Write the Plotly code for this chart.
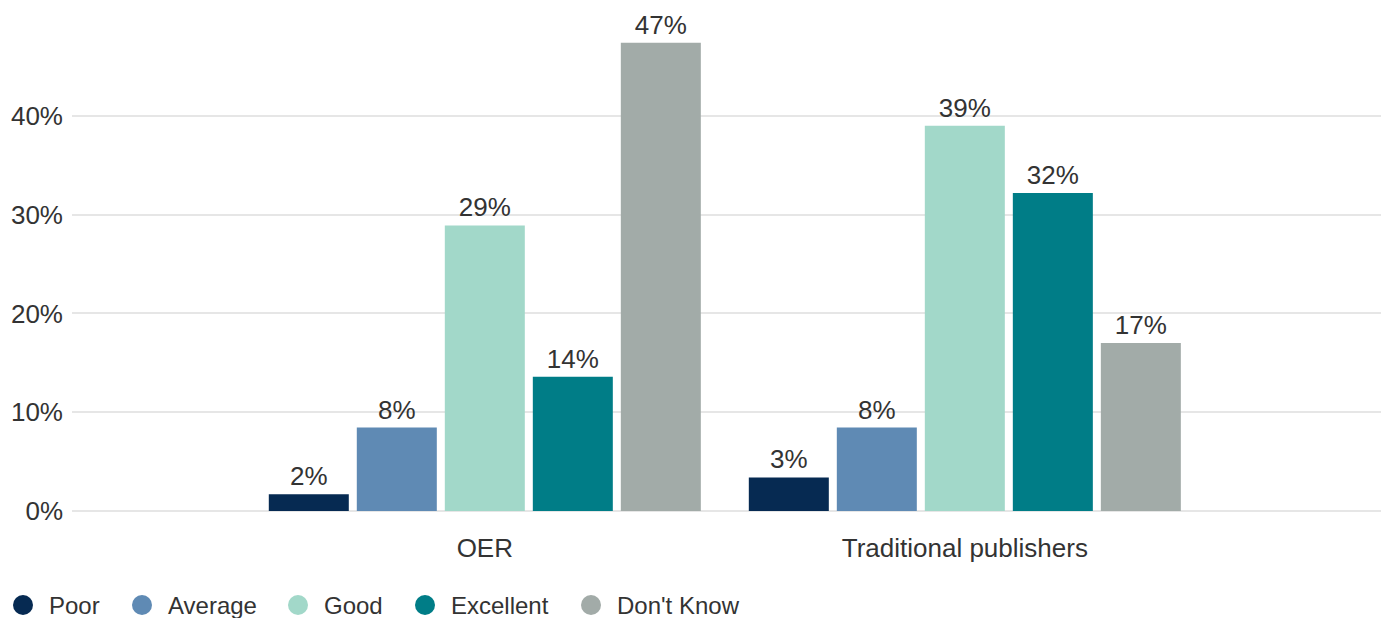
import plotly.graph_objects as go

# Survey results: perceived quality of course materials
categories = ["OER", "Traditional publishers"]
ratings = ["Poor", "Average", "Good", "Excellent", "Don't Know"]
oer_values = [1.7, 8.45, 28.9, 13.6, 47.4]
traditional_values = [3.4, 8.45, 39.0, 32.2, 17.0]
colors = ["#062a52", "#5f8ab4", "#a2d8c9", "#007d87", "#a2aba8"]

FONT = "Liberation Sans, Arial, sans-serif"
TEXT = "#333333"

W, H = 1387, 618
M_L, M_R, M_T, M_B = 72, 6, 20, 107
PW, PH = W - M_L - M_R, H - M_T - M_B

fig = go.Figure()
for i, rating in enumerate(ratings):
    vals = [oer_values[i], traditional_values[i]]
    fig.add_trace(go.Bar(
        x=categories,
        y=vals,
        name=rating,
        marker=dict(color=colors[i], line=dict(width=0)),
        texttemplate="%{y:.0f}%",
        textposition="outside",
        textfont=dict(size=26, color=TEXT, family=FONT),
        cliponaxis=False,
        showlegend=False,
    ))

# Custom legend row below the plot: round swatch + label
legend_symbol_px = [23, 142, 298, 425, 591]
legend_y_px = 605


def px_to_paper_x(px):
    return (px - M_L) / PW


def px_to_paper_y(py):
    return (H - M_B - py) / PH


for i, rating in enumerate(ratings):
    cx = px_to_paper_x(legend_symbol_px[i])
    cy = px_to_paper_y(legend_y_px)
    fig.add_shape(
        type="circle", xref="paper", yref="paper",
        xsizemode="pixel", ysizemode="pixel",
        xanchor=cx, yanchor=cy,
        x0=-10, x1=10, y0=-10, y1=10,
        fillcolor=colors[i], line=dict(width=0),
    )
    fig.add_annotation(
        x=px_to_paper_x(legend_symbol_px[i] + 24), y=cy,
        xref="paper", yref="paper",
        xanchor="left", yanchor="middle",
        text=rating, showarrow=False,
        font=dict(size=24, color=TEXT, family=FONT),
    )

fig.update_layout(
    width=W,
    height=H,
    paper_bgcolor="white",
    plot_bgcolor="white",
    font=dict(family=FONT, color=TEXT, size=26),
    barmode="group",
    bargap=0.0833,
    bargroupgap=0.0909,
    showlegend=False,
    margin=dict(l=M_L, r=M_R, t=M_T, b=M_B, autoexpand=False),
    xaxis=dict(
        type="category",
        range=[-0.860, 1.867],
        showgrid=False,
        showline=False,
        zeroline=False,
        ticks="",
        tickfont=dict(size=26, color=TEXT, family=FONT),
        ticklabelstandoff=19,
    ),
    yaxis=dict(
        range=[0, 49.7],
        tickvals=[0, 10, 20, 30, 40],
        ticktext=["0%", "10%", "20%", "30%", "40%"],
        showgrid=True,
        gridcolor="#e6e6e6",
        gridwidth=1.5,
        zeroline=True,
        zerolinecolor="#e6e6e6",
        zerolinewidth=1.5,
        showline=False,
        ticks="",
        tickfont=dict(size=26, color=TEXT, family=FONT),
        ticklabelstandoff=8,
    ),
)

fig.write_html("out.html")
